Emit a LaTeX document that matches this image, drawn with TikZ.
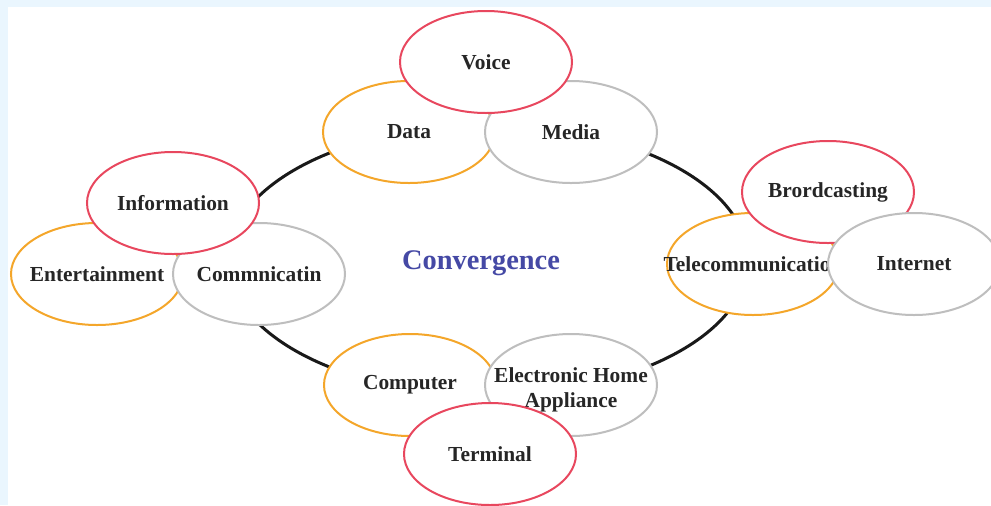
\documentclass[tikz,border=0pt]{standalone}
\usepackage{fontspec}
\setmainfont{Liberation Serif}
\usetikzlibrary{shapes.geometric}
\definecolor{bgblue}{HTML}{EAF6FE}
\definecolor{ered}{HTML}{E8475E}
\definecolor{eorange}{HTML}{F4A62A}
\definecolor{egray}{HTML}{BEBEBE}
\definecolor{cvblue}{HTML}{4549A5}
\definecolor{txt}{HTML}{262626}
\newcommand{\cvlbl}[1]{\makebox[0pt][c]{#1}}
\tikzset{
  bubble/.style={ellipse, fill=white, line width=1pt, inner sep=0pt,
    minimum width=86pt, minimum height=51pt, text=txt,
    font=\fontsize{10.7}{12.5}\selectfont\bfseries},
  redb/.style={bubble, draw=ered},
  orab/.style={bubble, draw=eorange},
  grayb/.style={bubble, draw=egray},
  ring/.style={draw=black!90, line width=1.5pt},
  title/.style={text=cvblue, font=\fontsize{14.2}{16}\selectfont\bfseries}
}
\begin{document}
\begin{tikzpicture}[x=0.5pt,y=-0.5pt]
\clip (0,0) rectangle (991,505);
\useasboundingbox (0,0) rectangle (991,505);
\fill[bgblue] (0,0) rectangle (991,505);
\fill[white] (8,7) rectangle (991,505);
% central ring
\coordinate (ringc) at (488,260);
\draw[ring] (ringc) ellipse [x radius=260, y radius=135];
\node[title] (conv) at (481,263) {Convergence};
% top cluster
\node[orab] (data) at (409,132) {\cvlbl{Data}};
\node[grayb] (media) at (571,132) {\cvlbl{Media}};
\node[redb] (voice) at (486,62) {\cvlbl{Voice}};
% left cluster
\node[orab] (ent) at (97,274) {\cvlbl{Entertainment}};
\node[grayb] (comm) at (259,274) {\cvlbl{Commnicatin}};
\node[redb] (info) at (173,203) {\cvlbl{Information}};
% right cluster
\node[orab] (tele) at (753,264) {\cvlbl{Telecommunication}};
\node[redb] (brod) at (828,192) {\cvlbl{Brordcasting}};
\node[grayb] (inet) at (914,264) {\cvlbl{Internet}};
% bottom cluster
\node[orab] (comp) at (410,385) {\cvlbl{Computer}};
\node[grayb] (eha) at (571,385) {\cvlbl{\begin{tabular}{@{}c@{}}\rule{0pt}{13.8pt}Electronic Home\\[0pt]Appliance\end{tabular}}};
\node[redb] (term) at (490,454) {\cvlbl{Terminal}};
\end{tikzpicture}
\end{document}
